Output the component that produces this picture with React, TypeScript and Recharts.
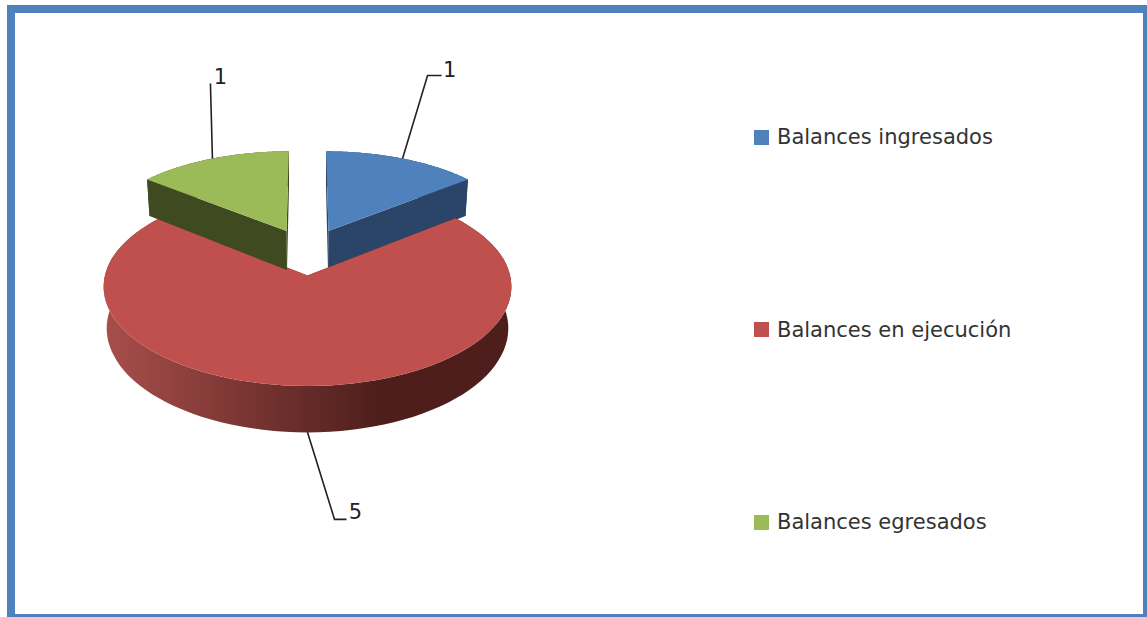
import { Legend, Pie, PieChart } from "recharts";

const NAMES = ["Balances ingresados", "Balances en ejecución", "Balances egresados"];
const VALUES = [1, 5, 1];
const TOP_COLORS = ["#4f81bd", "#c0504d", "#9bbb59"];
const WALL_COLORS = ["#2b4568", "#4d1e1b", "#3f4a20"];

const data = NAMES.map((name, i) => ({ name, value: VALUES[i], fill: TOP_COLORS[i] }));

// fake 3D: ground plane points go through a small perspective divide
const PERSPECTIVE = 0.11;
const FLATTEN = 0.471;
const EXPLODE = 0.25;
const DEPTH = 40;
const BOTTOM_SHRINK = 0.985;

const RAD = Math.PI / 180;

function project(cx: number, cy: number, r: number, gx: number, gy: number, low = false) {
  const d = 1 + PERSPECTIVE * gy;
  const x = (r * gx) / d;
  const y = (-r * FLATTEN * gy) / d;
  return low
    ? { x: cx + x * BOTTOM_SHRINK, y: cy + y + DEPTH / d }
    : { x: cx + x, y: cy + y };
}

function toPath(points: { x: number; y: number }[]) {
  return points.map((p, i) => `${i ? "L" : "M"}${p.x.toFixed(1)} ${p.y.toFixed(1)}`).join(" ") + " Z";
}

/* eslint-disable @typescript-eslint/no-explicit-any */
function Slice({ cx, cy, outerRadius, startAngle, endAngle, name, fill }: any) {
  const mid = ((startAngle + endAngle) / 2) * RAD;
  const ox = Math.cos(mid) * EXPLODE;
  const oy = Math.sin(mid) * EXPLODE;
  const at = (deg: number, low = false) =>
    project(cx, cy, outerRadius, ox + Math.cos(deg * RAD), oy + Math.sin(deg * RAD), low);
  const apex = project(cx, cy, outerRadius, ox, oy);
  const apexLow = project(cx, cy, outerRadius, ox, oy, true);

  const arc: number[] = [];
  const steps = 90;
  for (let i = 0; i <= steps; i++) arc.push(startAngle + ((endAngle - startAngle) * i) / steps);

  const idx = NAMES.indexOf(name);
  const wall = idx === 1 ? "url(#redWall)" : WALL_COLORS[idx];

  return (
    <g>
      <path d={toPath([apex, at(startAngle), at(startAngle, true), apexLow])} fill={WALL_COLORS[idx]} />
      <path d={toPath([apex, at(endAngle), at(endAngle, true), apexLow])} fill={WALL_COLORS[idx]} />
      <path
        d={toPath([...arc.map((a) => at(a)), ...arc.slice().reverse().map((a) => at(a, true))])}
        fill={wall}
      />
      <path d={toPath([apex, ...arc.map((a) => at(a))])} fill={fill} />
    </g>
  );
}

// leader elbows and label spots, relative to where the leader leaves the slice
const LABEL_LINES = [
  [[25, -83], [39, -83]],
  [[27, 87], [39, 87]],
  [[-2, -75]],
];
const LABEL_TEXT = [
  [47, -89],
  [48, 80],
  [8, -82],
];

function SliceLabel({ cx, cy, outerRadius, midAngle, value, name }: any) {
  const idx = NAMES.indexOf(name);
  const m = midAngle * RAD;
  const gx = Math.cos(m) * (1 + EXPLODE);
  const gy = Math.sin(m) * (1 + EXPLODE);
  const a = project(cx, cy, outerRadius, gx, gy, idx === 1);
  const pts = [a, ...LABEL_LINES[idx].map(([dx, dy]) => ({ x: a.x + dx, y: a.y + dy }))];
  return (
    <g>
      <polyline
        points={pts.map((p) => `${p.x},${p.y}`).join(" ")}
        fill="none"
        stroke="#222"
        strokeWidth={1.6}
      />
      <text
        x={a.x + LABEL_TEXT[idx][0]}
        y={a.y + LABEL_TEXT[idx][1]}
        textAnchor="middle"
        dominantBaseline="central"
        fontSize={21}
        fontFamily="'DejaVu Sans', sans-serif"
        fill="#222"
      >
        {value}
      </text>
    </g>
  );
}

function LegendList() {
  return (
    <div style={{ fontFamily: "'DejaVu Sans', sans-serif", fontSize: 21, color: "#333" }}>
      {NAMES.map((name, i) => (
        <div key={name} style={{ display: "flex", alignItems: "center", height: 192.5 }}>
          <span style={{ width: 15, height: 15, background: TOP_COLORS[i], marginRight: 8 }} />
          <span>{name}</span>
        </div>
      ))}
    </div>
  );
}

export default function App() {
  return (
    <div
      style={{
        position: "absolute",
        left: 0,
        top: 0,
        width: 1147,
        height: 617,
        background: "#fff",
        overflow: "hidden",
      }}
    >
      <div
        style={{
          position: "absolute",
          left: 7,
          top: 5,
          right: 0,
          bottom: 0,
          borderStyle: "solid",
          borderColor: "#4f81bd",
          borderWidth: "8px 4px 3px 8px",
        }}
      />
      <div style={{ position: "absolute", left: 0, top: 0 }}>
        <PieChart width={1147} height={617} margin={{ top: 0, right: 0, bottom: 0, left: 0 }}>
          <defs>
            <linearGradient id="redWall" gradientUnits="userSpaceOnUse" x1="105" y1="0" x2="511" y2="0">
              <stop offset="0%" stopColor="#a84e4b" />
              <stop offset="68%" stopColor="#4d1e1b" />
              <stop offset="100%" stopColor="#4d1e1b" />
            </linearGradient>
          </defs>
          <Pie
            data={data}
            dataKey="value"
            nameKey="name"
            cx={307.5}
            cy={251.5}
            outerRadius={197}
            startAngle={90}
            endAngle={-270}
            stroke="none"
            shape={Slice}
            label={SliceLabel}
            labelLine={false}
            isAnimationActive={false}
          />
          <Legend
            layout="vertical"
            align="right"
            verticalAlign="top"
            content={<LegendList />}
            wrapperStyle={{ left: 754, top: 41, width: 380, right: "auto" }}
          />
        </PieChart>
      </div>
    </div>
  );
}
